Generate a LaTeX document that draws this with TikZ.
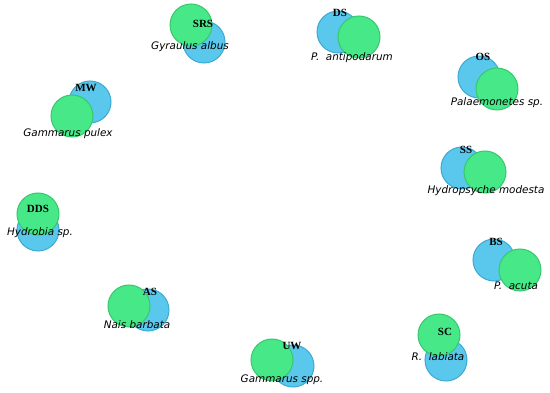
\documentclass[tikz,border=0pt]{standalone}
\usepackage{fontspec}
\setmainfont{Liberation Serif}
\newfontfamily\spfont{DejaVu Sans}
\begin{document}
\begin{tikzpicture}[x=1pt,y=-1pt,
  bluec/.style={circle,minimum size=42pt,inner sep=0pt,fill={rgb,255:red,90;green,200;blue,236},draw={rgb,255:red,60;green,170;blue,210},line width=1pt},
  greenc/.style={circle,minimum size=42pt,inner sep=0pt,fill={rgb,255:red,70;green,232;blue,136},draw={rgb,255:red,55;green,200;blue,110},line width=1pt},
  lab/.style={font=\bfseries\fontsize{11}{12}\selectfont,inner sep=0pt},
  sp/.style={font=\spfont\itshape\fontsize{10.4}{12}\selectfont,inner sep=0pt}]
\useasboundingbox (0,0) rectangle (550,393);
% SRS
\node[bluec] (srsB) at (204,42) {};
\node[greenc] (srsG) at (191,25) {};
\node[lab] (srsL) at (203,24) {SRS};
\node[sp] (srsS) at (190,47) {Gyraulus albus};
% DS
\node[bluec] (dsB) at (338,32) {};
\node[greenc] (dsG) at (359,37) {};
\node[lab] (dsL) at (340,13) {DS};
\node[sp] (dsS) at (352,58) {P.\ \ antipodarum};
% OS
\node[bluec] (osB) at (479,77) {};
\node[greenc] (osG) at (497,89) {};
\node[lab] (osL) at (483,57) {OS};
\node[sp] (osS) at (497,103) {Palaemonetes sp.};
% SS
\node[bluec] (ssB) at (462,168) {};
\node[greenc] (ssG) at (485,172) {};
\node[lab] (ssL) at (466,150) {SS};
\node[sp] (ssS) at (486,191) {Hydropsyche modesta};
% BS
\node[bluec] (bsB) at (494,260) {};
\node[greenc] (bsG) at (520,270) {};
\node[lab] (bsL) at (496,242) {BS};
\node[sp] (bsS) at (516,286) {P.\ \ acuta};
% SC
\node[bluec] (scB) at (446,360) {};
\node[greenc] (scG) at (439,335) {};
\node[lab] (scL) at (445,332) {SC};
\node[sp] (scS) at (438,357) {R.\ \ labiata};
% UW
\node[bluec] (uwB) at (293,366) {};
\node[greenc] (uwG) at (272,360) {};
\node[lab] (uwL) at (292,346) {UW};
\node[sp] (uwS) at (282,380) {Gammarus spp.};
% AS
\node[bluec] (asB) at (148,310) {};
\node[greenc] (asG) at (129,306) {};
\node[lab] (asL) at (150,292) {AS};
\node[sp] (asS) at (137,325) {Nais barbata};
% DDS
\node[bluec] (ddsB) at (38,230) {};
\node[greenc] (ddsG) at (38,214) {};
\node[lab] (ddsL) at (38,209) {DDS};
\node[sp] (ddsS) at (40,233) {Hydrobia sp.};
% MW
\node[bluec] (mwB) at (90,102) {};
\node[greenc] (mwG) at (72,116) {};
\node[lab] (mwL) at (86,88) {MW};
\node[sp] (mwS) at (68,134) {Gammarus pulex};
\end{tikzpicture}
\end{document}
